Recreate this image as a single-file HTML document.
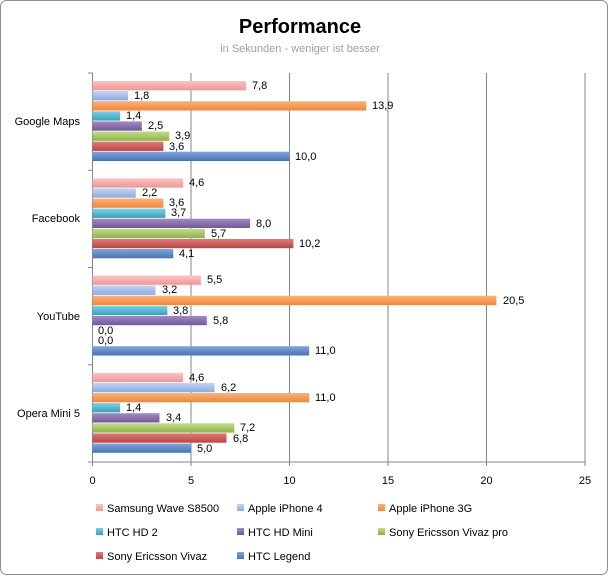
<!DOCTYPE html>
<html><head><meta charset="utf-8"><style>
html,body{margin:0;padding:0;background:#fff}
svg{display:block;font-family:"Liberation Sans",sans-serif}
</style></head><body>
<svg width="608" height="575" viewBox="0 0 608 575" xmlns="http://www.w3.org/2000/svg">
<defs>
<linearGradient id="g0" x1="0" y1="0" x2="0" y2="1"><stop offset="0" stop-color="#fbc4c4"/><stop offset="1" stop-color="#ef9696"/></linearGradient>
<linearGradient id="g1" x1="0" y1="0" x2="0" y2="1"><stop offset="0" stop-color="#c2d4f4"/><stop offset="1" stop-color="#8eacde"/></linearGradient>
<linearGradient id="g2" x1="0" y1="0" x2="0" y2="1"><stop offset="0" stop-color="#fcb27a"/><stop offset="1" stop-color="#f1863a"/></linearGradient>
<linearGradient id="g3" x1="0" y1="0" x2="0" y2="1"><stop offset="0" stop-color="#7fd0e4"/><stop offset="1" stop-color="#3aa0bb"/></linearGradient>
<linearGradient id="g4" x1="0" y1="0" x2="0" y2="1"><stop offset="0" stop-color="#a48ac4"/><stop offset="1" stop-color="#735896"/></linearGradient>
<linearGradient id="g5" x1="0" y1="0" x2="0" y2="1"><stop offset="0" stop-color="#c2dc88"/><stop offset="1" stop-color="#8fb14c"/></linearGradient>
<linearGradient id="g6" x1="0" y1="0" x2="0" y2="1"><stop offset="0" stop-color="#e07a78"/><stop offset="1" stop-color="#b94643"/></linearGradient>
<linearGradient id="g7" x1="0" y1="0" x2="0" y2="1"><stop offset="0" stop-color="#82a6da"/><stop offset="1" stop-color="#4674b4"/></linearGradient>
</defs>
<rect x="0.5" y="0.5" width="607" height="574" rx="6" fill="#fff" stroke="#8c8c8c"/>
<text x="300" y="33" font-size="20" font-weight="bold" text-anchor="middle" fill="#000">Performance</text>
<text x="300" y="52" font-size="11" text-anchor="middle" fill="#a0a0a0">in Sekunden - weniger ist besser</text>
<g stroke="#868686" stroke-width="1">
<line x1="191" y1="73" x2="191" y2="462"/><line x1="289.5" y1="73" x2="289.5" y2="462"/>
<line x1="388" y1="73" x2="388" y2="462"/><line x1="486.5" y1="73" x2="486.5" y2="462"/>
<line x1="585" y1="73" x2="585" y2="462"/>
<line x1="92.5" y1="73" x2="92.5" y2="462"/><line x1="92.5" y1="462" x2="585" y2="462"/>
<line x1="88" y1="73" x2="92.5" y2="73"/><line x1="88" y1="170.25" x2="92.5" y2="170.25"/><line x1="88" y1="267.5" x2="92.5" y2="267.5"/><line x1="88" y1="364.75" x2="92.5" y2="364.75"/><line x1="88" y1="462" x2="92.5" y2="462"/>
<line x1="92.5" y1="462" x2="92.5" y2="466"/><line x1="191" y1="462" x2="191" y2="466"/><line x1="289.5" y1="462" x2="289.5" y2="466"/><line x1="388" y1="462" x2="388" y2="466"/><line x1="486.5" y1="462" x2="486.5" y2="466"/><line x1="585" y1="462" x2="585" y2="466"/>
</g>
<g font-size="11" fill="#000" text-anchor="middle">
<text x="92.5" y="484">0</text><text x="191" y="484">5</text><text x="289.5" y="484">10</text><text x="388" y="484">15</text><text x="486.5" y="484">20</text><text x="585" y="484">25</text>
</g>
<g font-size="11" fill="#000" text-anchor="end">
<text x="80" y="125">Google Maps</text><text x="80" y="222">Facebook</text><text x="80" y="320">YouTube</text><text x="80" y="417">Opera Mini 5</text>
</g>
<g>
<rect x="92.5" y="81" width="153.7" height="9.3" fill="url(#g0)"/>
<rect x="92.5" y="91.1" width="35.5" height="9.3" fill="url(#g1)"/>
<rect x="92.5" y="101.2" width="273.8" height="9.3" fill="url(#g2)"/>
<rect x="92.5" y="111.3" width="27.6" height="9.3" fill="url(#g3)"/>
<rect x="92.5" y="121.4" width="49.3" height="9.3" fill="url(#g4)"/>
<rect x="92.5" y="131.5" width="76.8" height="9.3" fill="url(#g5)"/>
<rect x="92.5" y="141.6" width="70.9" height="9.3" fill="url(#g6)"/>
<rect x="92.5" y="151.7" width="197" height="9.3" fill="url(#g7)"/>

<rect x="92.5" y="178.3" width="90.6" height="9.3" fill="url(#g0)"/>
<rect x="92.5" y="188.4" width="43.3" height="9.3" fill="url(#g1)"/>
<rect x="92.5" y="198.5" width="70.9" height="9.3" fill="url(#g2)"/>
<rect x="92.5" y="208.6" width="72.9" height="9.3" fill="url(#g3)"/>
<rect x="92.5" y="218.7" width="157.6" height="9.3" fill="url(#g4)"/>
<rect x="92.5" y="228.8" width="112.3" height="9.3" fill="url(#g5)"/>
<rect x="92.5" y="238.9" width="200.9" height="9.3" fill="url(#g6)"/>
<rect x="92.5" y="249" width="80.8" height="9.3" fill="url(#g7)"/>

<rect x="92.5" y="275.5" width="108.4" height="9.3" fill="url(#g0)"/>
<rect x="92.5" y="285.6" width="63" height="9.3" fill="url(#g1)"/>
<rect x="92.5" y="295.7" width="403.9" height="9.3" fill="url(#g2)"/>
<rect x="92.5" y="305.8" width="74.9" height="9.3" fill="url(#g3)"/>
<rect x="92.5" y="315.9" width="114.3" height="9.3" fill="url(#g4)"/>
<rect x="92.5" y="346.2" width="216.7" height="9.3" fill="url(#g7)"/>

<rect x="92.5" y="372.8" width="90.6" height="9.3" fill="url(#g0)"/>
<rect x="92.5" y="382.9" width="122.1" height="9.3" fill="url(#g1)"/>
<rect x="92.5" y="393" width="216.7" height="9.3" fill="url(#g2)"/>
<rect x="92.5" y="403.1" width="27.6" height="9.3" fill="url(#g3)"/>
<rect x="92.5" y="413.2" width="67" height="9.3" fill="url(#g4)"/>
<rect x="92.5" y="423.3" width="141.8" height="9.3" fill="url(#g5)"/>
<rect x="92.5" y="433.4" width="134" height="9.3" fill="url(#g6)"/>
<rect x="92.5" y="443.5" width="98.5" height="9.3" fill="url(#g7)"/>
</g>
<g font-size="11" fill="#000">
<text x="252" y="89">7,8</text><text x="134" y="99">1,8</text><text x="372" y="109">13,9</text><text x="126" y="119">1,4</text><text x="148" y="129">2,5</text><text x="175" y="139">3,9</text><text x="169" y="150">3,6</text><text x="295" y="160">10,0</text>
<text x="189" y="186">4,6</text><text x="142" y="196">2,2</text><text x="169" y="206">3,6</text><text x="171" y="216">3,7</text><text x="256" y="227">8,0</text><text x="211" y="237">5,7</text><text x="299" y="247">10,2</text><text x="179" y="257">4,1</text>
<text x="207" y="283">5,5</text><text x="162" y="293">3,2</text><text x="503" y="304">20,5</text><text x="173" y="314">3,8</text><text x="213" y="324">5,8</text><text x="98" y="334">0,0</text><text x="98" y="344">0,0</text><text x="315" y="354">11,0</text>
<text x="189" y="381">4,6</text><text x="221" y="391">6,2</text><text x="315" y="401">11,0</text><text x="126" y="411">1,4</text><text x="166" y="421">3,4</text><text x="240" y="431">7,2</text><text x="233" y="442">6,8</text><text x="197" y="452">5,0</text>
</g>
<g font-size="11" fill="#000">
<rect x="96" y="504" width="7" height="7" fill="url(#g0)"/><text x="107" y="512">Samsung Wave S8500</text>
<rect x="237" y="504" width="7" height="7" fill="url(#g1)"/><text x="248" y="512">Apple iPhone 4</text>
<rect x="378" y="504" width="7" height="7" fill="url(#g2)"/><text x="389" y="512">Apple iPhone 3G</text>
<rect x="96" y="528" width="7" height="7" fill="url(#g3)"/><text x="107" y="536">HTC HD 2</text>
<rect x="237" y="528" width="7" height="7" fill="url(#g4)"/><text x="248" y="536">HTC HD Mini</text>
<rect x="378" y="528" width="7" height="7" fill="url(#g5)"/><text x="389" y="536">Sony Ericsson Vivaz pro</text>
<rect x="96" y="552" width="7" height="7" fill="url(#g6)"/><text x="107" y="560">Sony Ericsson Vivaz</text>
<rect x="237" y="552" width="7" height="7" fill="url(#g7)"/><text x="248" y="560">HTC Legend</text>
</g>
</svg>
</body></html>
